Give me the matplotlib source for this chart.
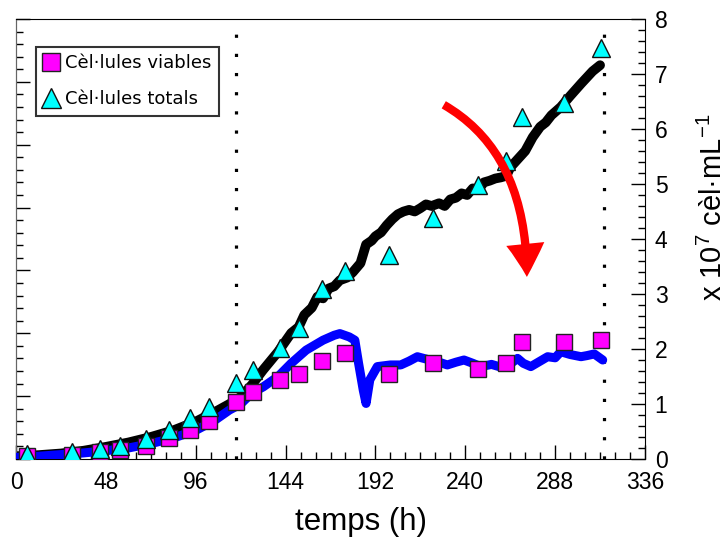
import matplotlib
matplotlib.use("Agg")
import matplotlib.pyplot as plt
from matplotlib.ticker import MultipleLocator

plt.rcParams["font.family"] = ["Liberation Sans", "DejaVu Sans"]
plt.rcParams["mathtext.fontset"] = "custom"
plt.rcParams["mathtext.rm"] = "Liberation Sans"
plt.rcParams["mathtext.it"] = "Liberation Sans:italic"

# sampled points (x 10^7 cells/mL)
t_samples = [6, 30, 45, 55.6, 69.4, 81.5, 93, 103, 117.5, 126.8, 140.9, 151.4, 163.5,
             175.5, 199.2, 222.9, 246.8, 261.5, 270.5, 292.8, 312.5]
viables = [0.05, 0.07, 0.13, 0.16, 0.24, 0.39, 0.53, 0.69, 1.04, 1.21, 1.44, 1.55, 1.78,
           1.93, 1.55, 1.74, 1.64, 1.74, 2.12, 2.12, 2.16]
totals = [0.09, 0.13, 0.18, 0.24, 0.36, 0.53, 0.74, 0.95, 1.38, 1.62, 2.01, 2.38, 3.10,
          3.42, 3.71, 4.38, 4.98, 5.42, 6.22, 6.48, 7.47]

# online probe signals
t_total = [0, 12, 24, 36, 48, 60, 72, 84, 96, 106, 114, 120, 126, 132, 140, 147, 151,
           154, 158, 161, 164, 167, 170, 173, 177, 180, 184, 187, 190, 192, 195, 198,
           201, 204, 207, 210, 213, 216, 219, 222, 226, 229, 232, 235, 238, 241, 244,
           247, 250, 253, 256, 259, 262, 264, 268, 272, 276, 280, 283, 286, 291, 296,
           302, 308, 312]
total_probe = [0.05, 0.07, 0.10, 0.15, 0.22, 0.30, 0.40, 0.52, 0.68, 0.85, 1.00, 1.13,
               1.35, 1.62, 1.95, 2.29, 2.40, 2.62, 2.75, 2.95, 2.92, 3.10, 3.14, 3.25,
               3.30, 3.40, 3.56, 3.90, 3.97, 4.05, 4.12, 4.25, 4.36, 4.45, 4.50, 4.53,
               4.50, 4.56, 4.63, 4.60, 4.65, 4.60, 4.72, 4.75, 4.83, 4.80, 4.92, 4.90,
               5.03, 5.06, 5.10, 5.12, 5.15, 5.30, 5.45, 5.60, 5.85, 6.04, 6.12, 6.25,
               6.40, 6.60, 6.83, 7.05, 7.16]

t_viable = [0, 12, 24, 36, 48, 60, 72, 84, 96, 106, 114, 120, 126, 132, 140, 147, 155,
            164, 170, 173, 178, 181, 183, 185.5, 187, 189, 193, 200, 205.5, 210, 214.4,
            221, 226, 230.4, 235, 239.3, 244, 248.3, 254, 259, 263, 267.9, 271, 275,
            280, 284, 288, 291, 296, 301.8, 305, 308.9, 313.4]
viable_probe = [0.03, 0.05, 0.08, 0.11, 0.15, 0.20, 0.28, 0.38, 0.52, 0.70, 0.89, 1.00,
                1.20, 1.31, 1.50, 1.74, 1.98, 2.16, 2.25, 2.28, 2.22, 2.16, 1.74, 1.25,
                1.01, 1.44, 1.68, 1.71, 1.71, 1.78, 1.86, 1.80, 1.76, 1.71, 1.76, 1.80,
                1.74, 1.68, 1.72, 1.67, 1.70, 1.83, 1.74, 1.68, 1.78, 1.86, 1.84, 1.95,
                1.90, 1.86, 1.88, 1.91, 1.80]

phase_limits = [117.5, 314]
x_ticks = [0, 48, 96, 144, 192, 240, 288, 336]

fig = plt.figure(figsize=(7.21, 5.43), dpi=100)
ax = fig.add_axes([0.0222, 0.1547, 0.8724, 0.8103])

for tp in phase_limits:
    ax.axvline(tp, color="black", lw=2.3, linestyle=(0, (1, 5)), zorder=1)

ax.plot(t_total, total_probe, color="black", lw=7, solid_capstyle="round",
        solid_joinstyle="round", zorder=2)
ax.plot(t_viable, viable_probe, color="#0000ff", lw=6.5, solid_capstyle="round",
        solid_joinstyle="round", zorder=3)

ax.plot(t_samples, viables, "s", color="#ff00ff", ms=11, mec="#222222", mew=1,
        label="Cèl·lules viables", zorder=4)
ax.plot(t_samples, totals, "^", color="#00ffff", ms=13, mec="#111111", mew=1,
        label="Cèl·lules totals", zorder=5)

# red arrow
ax.annotate("", xy=(272.9, 3.31), xytext=(228.5, 6.44),
            arrowprops=dict(arrowstyle="simple,head_length=0.95,head_width=1.1,tail_width=0.24",
                            color="red", lw=0, shrinkA=0, shrinkB=0, mutation_scale=25,
                            connectionstyle="angle3,angleA=-30,angleB=90"),
            zorder=6)

ax.set_xlim(0, 336)
ax.set_ylim(0, 8)
ax.set_xticks(x_ticks)
ax.xaxis.set_minor_locator(MultipleLocator(8))
ax.yaxis.tick_right()
ax.yaxis.set_major_locator(MultipleLocator(1))
ax.yaxis.set_minor_locator(MultipleLocator(0.2))
ax.tick_params(axis="both", which="major", direction="in", length=10, width=1,
               labelsize=16.5, pad=7)
ax.tick_params(axis="x", which="major", pad=9)
ax.tick_params(axis="both", which="minor", direction="in", length=5, width=1)
ax.tick_params(axis="x", top=False, which="both")

# unlabelled left scale
sec = ax.secondary_yaxis("left", functions=(lambda y: y * 7 / 8, lambda y: y * 8 / 7))
sec.yaxis.set_major_locator(MultipleLocator(1))
sec.yaxis.set_minor_locator(MultipleLocator(0.2))
sec.tick_params(which="major", direction="in", length=10, width=1, labelleft=False)
sec.tick_params(which="minor", direction="in", length=5, width=1)
sec.spines["left"].set_color("#666666")
ax.spines["left"].set_color("#666666")

ax.set_xlabel("temps (h)", fontsize=22.5)
ax.xaxis.set_label_coords(0.548, -0.108)
ax.text(1.108, 0.572, r"x 10$^7$ cèl·mL$^{-1}$", transform=ax.transAxes, rotation=90,
        ha="center", va="center", fontsize=21)

leg = ax.legend(loc="upper left", bbox_to_anchor=(0.031, 0.936), frameon=True,
                fancybox=False, edgecolor="black", handlelength=0.9, handletextpad=0.35,
                borderpad=0.4, labelspacing=1.0, borderaxespad=0, markerscale=1.15,
                prop={"family": "DejaVu Sans", "size": 13})
leg.get_frame().set_linewidth(1.5)

fig.savefig("out.png", dpi=100)
